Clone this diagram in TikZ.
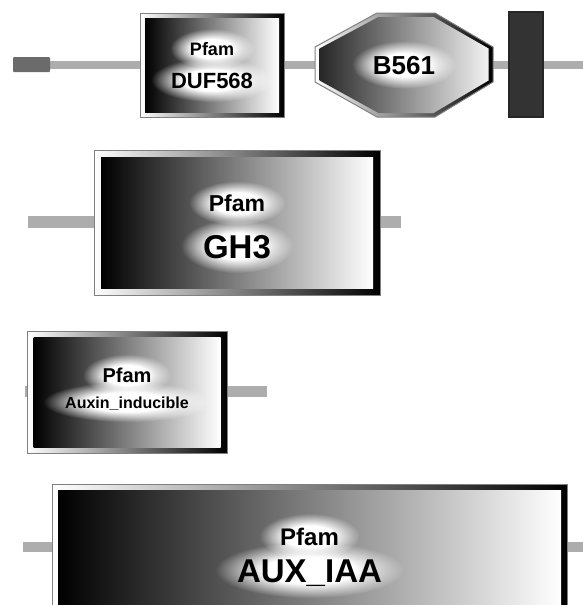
\documentclass[tikz,border=0pt]{standalone}
\usepackage{fontspec}
\setmainfont{Liberation Sans}
\usetikzlibrary{fadings}
\pgfdeclareradialshading{halofade}{\pgfpointorigin}{color(0bp)=(pgftransparent!0); color(12bp)=(pgftransparent!0); color(25bp)=(pgftransparent!100); color(50bp)=(pgftransparent!100)}
\begin{tikzfadingfrompicture}[name=halo]
\shade[shading=halofade] (-25bp,-25bp) rectangle (25bp,25bp);
\end{tikzfadingfrompicture}
\definecolor{backbone}{gray}{0.68}
\definecolor{stubgray}{gray}{0.42}
\definecolor{tmgray}{gray}{0.2}

\begin{document}
\begin{tikzpicture}[x=1pt,y=-1pt,spine/.style={draw=backbone,line width=#1},bevel/.style={draw=gray,line width=1pt,left color=white,right color=black,inner sep=0pt,outer sep=0pt},core/.style={left color=black,right color=white,inner sep=0pt,outer sep=0pt},lbl/.style={anchor=base,inner sep=0pt,font=\bfseries\fontsize{#1}{#1}\selectfont},glow/.style={white,path fading=halo}]
\useasboundingbox (0,0) rectangle (583,605); \clip (0,0) rectangle (583,605);
% row 1: DUF568 + B561
\coordinate (r1a) at (13,65); \coordinate (r1b) at (583,65); \draw[spine=8pt](r1a)--(r1b);
\node[fill=stubgray,rounded corners=1pt,minimum width=37pt,minimum height=15pt,inner sep=0pt](stub) at (31.5,64.5){};
\node[bevel,minimum width=144pt,minimum height=104pt](duf) at (212,65){}; \node[core,minimum width=134pt,minimum height=94pt] at (duf){};
\path[bevel](315,47)--(377,13)--(435,13)--(493,47)--(493,82)--(435,117)--(377,117)--(315,82)--cycle;
\path[core,left color=black!85,right color=black!5](319.5,48.5)--(378.5,17)--(433.5,17)--(488.5,48.5)--(488.5,80.5)--(433.5,113)--(378.5,113)--(319.5,80.5)--cycle;
\coordinate (b561) at (404,64.7);
\node[fill=tmgray,draw=black!85,line width=2.5pt,minimum width=34pt,minimum height=105pt,inner sep=0pt](tm) at (526,64.5){};
\fill[glow](212,48.6) ellipse (42pt and 20pt); \fill[glow](212,80) ellipse (61pt and 22pt); \fill[glow](b561) ellipse (52pt and 24pt);
\node[lbl=18](duftop) at (212,55){Pfam}; \node[lbl=22](dufname) at (212,88){DUF568}; \node[lbl=26](b561name) at (404,74){B561};
% row 2: GH3
\coordinate (r2a) at (28,222); \coordinate (r2b) at (401,222); \draw[spine=12pt](r2a)--(r2b);
\node[bevel,minimum width=286pt,minimum height=145pt](gh3) at (237,222.5){}; \node[core,minimum width=272pt,minimum height=131pt] at (gh3){};
\fill[glow](237,203) ellipse (48pt and 22pt); \fill[glow](237,246) ellipse (56pt and 27pt);
\node[lbl=23](gh3top) at (237,211){Pfam}; \node[lbl=33](gh3name) at (237,258){GH3};
% row 3: Auxin_inducible
\coordinate (r3a) at (25,391.5); \coordinate (r3b) at (267,391.5); \draw[spine=11pt](r3a)--(r3b);
\node[bevel,minimum width=200pt,minimum height=122pt](auxin) at (127,392){}; \node[core,minimum width=187pt,minimum height=110pt] at (auxin){};
\fill[glow](127,375) ellipse (44pt and 21pt); \fill[glow](127,402) ellipse (84pt and 20pt);
\node[lbl=20](auxintop) at (127,382){Pfam}; \node[lbl=16](auxinname) at (127,408){Auxin\_inducible};
% row 4: AUX_IAA
\coordinate (r4a) at (23,547); \coordinate (r4b) at (583,547); \draw[spine=10pt](r4a)--(r4b);
\node[bevel,minimum width=515pt,minimum height=126pt](auxiaa) at (309.5,547){}; \node[core,minimum width=503pt,minimum height=114pt] at (auxiaa){};
\fill[glow](309.5,536.4) ellipse (50pt and 23pt); \fill[glow](309.5,570) ellipse (94pt and 28pt);
\node[lbl=24](auxiaatop) at (309.5,545){Pfam}; \node[lbl=33](auxiaaname) at (309.5,582){AUX\_IAA};
\end{tikzpicture}
\end{document}
